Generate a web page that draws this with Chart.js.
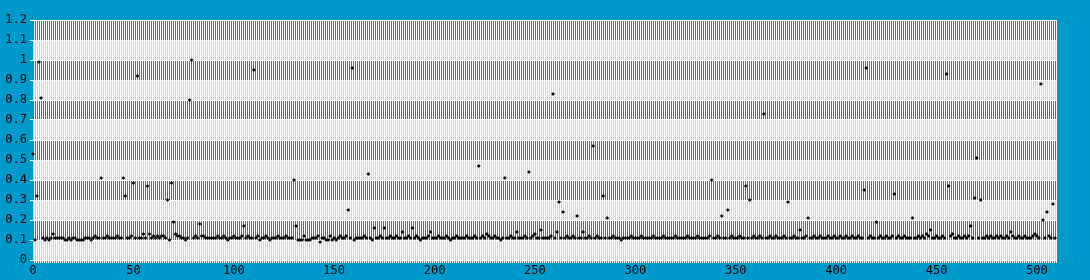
<!DOCTYPE html>
<html><head><meta charset="utf-8">
<script src="https://cdn.jsdelivr.net/npm/chart.js@4.4.1/dist/chart.umd.min.js"></script>
<style>html,body{margin:0;padding:0;background:#0099cc;overflow:hidden}#wrap{width:1090px;height:280px}</style>
</head><body><div id="wrap"><canvas id="c" width="1090" height="280"></canvas></div>
<script>
// Series values, one per index 0..509
const values = [
0.53,0.10,0.32,0.99,0.81,0.11,0.10,0.11,0.10,0.11,
0.13,0.11,0.11,0.11,0.11,0.11,0.10,0.10,0.11,0.10,
0.11,0.11,0.10,0.10,0.10,0.10,0.11,0.11,0.11,0.10,
0.11,0.12,0.11,0.11,0.41,0.11,0.11,0.12,0.11,0.11,
0.11,0.11,0.12,0.11,0.11,0.41,0.32,0.11,0.11,0.12,
0.385,0.11,0.92,0.11,0.11,0.13,0.11,0.37,0.13,0.11,
0.12,0.11,0.12,0.11,0.12,0.12,0.11,0.30,0.10,0.385,
0.19,0.13,0.12,0.12,0.11,0.11,0.10,0.11,0.80,1.00,
0.11,0.12,0.11,0.18,0.12,0.12,0.11,0.11,0.11,0.11,
0.11,0.11,0.12,0.11,0.11,0.12,0.11,0.10,0.11,0.11,
0.12,0.11,0.11,0.11,0.12,0.17,0.11,0.12,0.11,0.11,
0.95,0.11,0.12,0.10,0.11,0.11,0.12,0.11,0.10,0.11,
0.11,0.11,0.12,0.11,0.11,0.11,0.12,0.11,0.11,0.11,
0.40,0.17,0.10,0.10,0.10,0.12,0.10,0.10,0.10,0.11,
0.11,0.11,0.12,0.09,0.11,0.11,0.10,0.10,0.12,0.10,
0.11,0.10,0.11,0.12,0.11,0.11,0.12,0.25,0.11,0.96,
0.10,0.11,0.11,0.11,0.11,0.12,0.11,0.43,0.11,0.10,
0.16,0.11,0.11,0.12,0.11,0.16,0.11,0.11,0.12,0.11,
0.11,0.12,0.11,0.11,0.14,0.11,0.11,0.12,0.11,0.16,
0.11,0.12,0.11,0.10,0.11,0.11,0.11,0.12,0.14,0.11,
0.11,0.11,0.12,0.11,0.11,0.11,0.12,0.11,0.10,0.11,
0.11,0.12,0.11,0.11,0.11,0.11,0.12,0.11,0.11,0.11,
0.12,0.11,0.47,0.11,0.12,0.11,0.13,0.12,0.11,0.11,
0.12,0.11,0.11,0.10,0.11,0.41,0.11,0.11,0.12,0.11,
0.11,0.14,0.11,0.11,0.11,0.12,0.11,0.44,0.11,0.12,
0.13,0.11,0.11,0.15,0.11,0.11,0.11,0.11,0.12,0.83,
0.11,0.14,0.29,0.11,0.24,0.11,0.12,0.11,0.11,0.12,
0.11,0.22,0.11,0.11,0.14,0.11,0.11,0.12,0.11,0.57,
0.11,0.12,0.11,0.11,0.32,0.11,0.21,0.11,0.11,0.12,
0.11,0.11,0.11,0.10,0.11,0.11,0.11,0.11,0.12,0.11,
0.11,0.11,0.11,0.12,0.11,0.11,0.11,0.11,0.11,0.12,
0.11,0.11,0.11,0.11,0.12,0.11,0.11,0.11,0.11,0.11,
0.12,0.11,0.11,0.11,0.11,0.11,0.12,0.11,0.11,0.11,
0.11,0.12,0.11,0.11,0.11,0.11,0.11,0.12,0.40,0.11,
0.11,0.12,0.11,0.22,0.11,0.11,0.25,0.11,0.12,0.11,
0.11,0.11,0.12,0.11,0.11,0.37,0.11,0.30,0.11,0.12,
0.11,0.11,0.12,0.11,0.73,0.11,0.11,0.12,0.11,0.11,
0.12,0.11,0.11,0.11,0.12,0.11,0.29,0.11,0.11,0.12,
0.11,0.11,0.15,0.11,0.11,0.12,0.21,0.11,0.11,0.12,
0.11,0.11,0.12,0.11,0.11,0.11,0.12,0.11,0.11,0.12,
0.11,0.11,0.12,0.11,0.11,0.12,0.11,0.11,0.12,0.11,
0.11,0.12,0.11,0.11,0.35,0.96,0.11,0.12,0.11,0.11,
0.19,0.11,0.12,0.11,0.11,0.12,0.11,0.11,0.12,0.33,
0.11,0.12,0.11,0.11,0.12,0.11,0.11,0.11,0.21,0.11,
0.11,0.12,0.11,0.12,0.11,0.13,0.12,0.15,0.11,0.11,
0.12,0.11,0.11,0.12,0.11,0.93,0.37,0.12,0.13,0.11,
0.11,0.12,0.11,0.11,0.12,0.11,0.12,0.17,0.11,0.31,
0.51,0.11,0.30,0.11,0.11,0.12,0.11,0.12,0.11,0.11,
0.12,0.11,0.12,0.11,0.11,0.12,0.11,0.14,0.12,0.11,
0.11,0.12,0.11,0.11,0.12,0.11,0.11,0.11,0.12,0.13,
0.12,0.11,0.88,0.20,0.11,0.24,0.12,0.11,0.28,0.11
];
const xTickValues = [0, 50, 100, 150, 200, 250, 300, 350, 400, 450, 500];
const xMin = 0, xMax = 510;
const yMin = 0, yMax = 1.2, yStep = 0.1;
const bandColors = ['#c5d6e2', '#1785ad'];
const FONT = {family: '"DejaVu Sans Mono", monospace', size: 12};

const points = values.map((v, i) => ({x: i, y: v}));

// Background bands + fine white vertical hatch (decoration only)
const bands = {
  id: 'bands',
  beforeDraw(chart) {
    const {ctx, chartArea: a, scales: {y}} = chart;
    ctx.save();
    const n = Math.round((yMax - yMin) / yStep);
    for (let k = 0; k < n; k++) {
      const lo = yMin + k * yStep, hi = lo + yStep;
      const top = y.getPixelForValue(hi), bot = y.getPixelForValue(lo);
      ctx.fillStyle = bandColors[k % 2];
      ctx.fillRect(a.left, top, a.right - a.left, bot - top);
    }
    ctx.fillStyle = '#ffffff';
    const L = Math.round(a.left), R = Math.round(a.right);
    for (let px = L + 1; px < R; px += 2) {
      ctx.fillRect(px, a.top, 1, a.bottom - a.top + 3);
    }
    ctx.restore();
  }
};

new Chart(document.getElementById('c'), {
  type: 'scatter',
  data: {datasets: [{
    data: points,
    pointStyle: 'cross',
    pointRadius: 1.6,
    pointBorderWidth: 1.5,
    borderColor: '#000',
    backgroundColor: '#000',
    clip: 4
  }]},
  options: {
    responsive: false,
    animation: false,
    events: [],
    layout: {padding: {top: 20, right: 33, left: 0, bottom: 0}},
    plugins: {legend: {display: false}, tooltip: {enabled: false}},
    scales: {
      x: {
        type: 'linear', min: xMin, max: xMax,
        afterFit(s) { s.height = 20; },
        afterBuildTicks(s) { s.ticks = xTickValues.map(v => ({value: v})); },
        border: {display: false},
        grid: {color: 'rgba(0,0,0,0)', drawTicks: true, tickLength: 3, tickColor: 'rgba(0,0,0,0)'},
        ticks: {
          autoSkip: false, maxRotation: 0, minRotation: 0,
          padding: 1, color: '#000', font: FONT,
          callback: v => String(v)
        }
      },
      y: {
        min: yMin, max: yMax,
        afterFit(s) { s.width = 33; },
        border: {display: false},
        grid: {color: '#ffffff', lineWidth: 1, drawTicks: true, tickLength: 3, tickColor: '#ffffff'},
        ticks: {
          stepSize: yStep, padding: 3, color: '#000', font: FONT,
          callback: v => String(+v.toFixed(1))
        }
      }
    }
  },
  plugins: [bands]
});
</script>
</body></html>
